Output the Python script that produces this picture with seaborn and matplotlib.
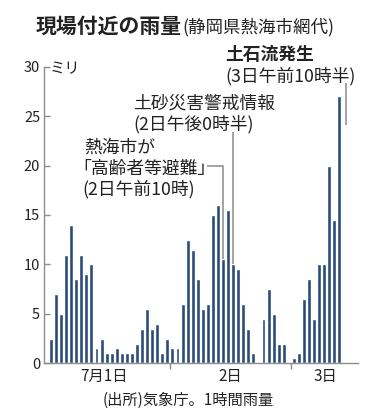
import matplotlib
matplotlib.use("Agg")
import matplotlib.pyplot as plt
import seaborn as sns
import pandas as pd

# hourly rainfall (mm), one value per hour
jul1 = [2.5, 7, 5, 11, 14, 8.5, 11, 9, 10, 1.5, 2.5, 1, 1, 1.5, 1, 1, 1, 2, 3.5, 5.5, 3.5, 4, 1, 2.5]
jul2 = [1.5, 1.5, 6, 12.5, 11.5, 8.5, 5.5, 6, 15, 16, 10.5, 15.5, 10, 9.5, 6, 3.5, 1, 0, 4.5, 7.5, 5, 2, 2, 0]
jul3 = [0.5, 1, 6.5, 8.5, 4.5, 10, 10, 20, 14.5, 27]
day_labels = ["7月1日", "2日", "3日"]
y_ticks = [0, 5, 10, 15, 20, 25, 30]

values = jul1 + jul2 + jul3
hours = list(range(len(values)))
df = pd.DataFrame({"hour": hours, "mm": values})

sns.set_theme(style="white")
plt.rcParams["font.family"] = ["Noto Sans CJK JP", "DejaVu Sans"]

W, H = 375, 420
fig = plt.figure(figsize=(W / 100, H / 100), dpi=100)
fig.patch.set_facecolor("white")

def fx(px):
    return px / W

def fy(py):
    return 1 - py / H

ax_l, ax_r, ax_t, ax_b = 44.3, 358, 66.6, 363.3
ax = fig.add_axes([fx(ax_l), fy(ax_b), fx(ax_r - ax_l), (ax_b - ax_t) / H])

bar_color = "#2b4b78"
sns.barplot(data=df, x="hour", y="mm", color=bar_color, saturation=1,
            width=0.78, ax=ax, errorbar=None)

ax.set_xlim(-1.32, 60.67)
ax.set_ylim(0, 30)
ax.set_xlabel("")
ax.set_ylabel("")

gray = "#8c8c8c"
for s in ["top", "right"]:
    ax.spines[s].set_visible(False)
for s in ["left", "bottom"]:
    ax.spines[s].set_color(gray)
    ax.spines[s].set_linewidth(1.0)

ax.set_yticks(y_ticks)
ax.set_yticklabels([str(v) for v in y_ticks], fontsize=10.5, color="#222222")
ax.tick_params(axis="y", direction="in", length=4.5, width=1, color=gray, pad=3, left=True)

# day boundary ticks
n1, n2 = len(jul1), len(jul2)
ax.set_xticks([n1 - 0.5, n1 + n2 - 0.5])
ax.set_xticklabels(["", ""])
ax.tick_params(axis="x", direction="out", length=4.5, width=1, color=gray, bottom=True)

tx = ax.get_xaxis_transform()
label_x = [10.5, 35.4, 54.2]
for xv, lab in zip(label_x, day_labels):
    ax.text(xv, -0.045, lab, transform=tx, ha="center", va="center",
            fontsize=11, color="#222222")

# annotation lines (data coords)
lc = "#8a8a8a"
lw = 1.1
# 高齢者等避難 (2日午前10時)
ax.plot([30.8, 34, 34], [19.9, 19.9, 10.5], color=lc, lw=lw, solid_capstyle="butt")
# 土砂災害警戒情報 (2日午後0時半)
ax.plot([36, 36], [23.4, 10], color=lc, lw=lw, solid_capstyle="butt")
# 土石流発生 (3日午前10時半)
ax.plot([58.2, 58.2], [28.3, 24.1], color=lc, lw=lw, solid_capstyle="butt")

tc = "#222222"
fs = 12.8
# title
fig.text(fx(36), fy(26), "現場付近の雨量", fontsize=15, fontweight="bold",
         ha="left", va="center", color=tc)
fig.text(fx(182), fy(27), "(静岡県熱海市網代)", fontsize=12.6, ha="left", va="center", color=tc)

fig.text(fx(50), fy(69), "ミリ", fontsize=11, ha="left", va="center", color=tc)

fig.text(fx(225), fy(55), "土石流発生", fontsize=fs, fontweight="bold", ha="left", va="center", color=tc)
fig.text(fx(225), fy(76), "(3日午前10時半)", fontsize=fs, ha="left", va="center", color=tc)

fig.text(fx(133), fy(104), "土砂災害警戒情報", fontsize=fs, ha="left", va="center", color=tc)
fig.text(fx(133), fy(124), "(2日午後0時半)", fontsize=fs, ha="left", va="center", color=tc)

fig.text(fx(84), fy(148), "熱海市が", fontsize=fs, ha="left", va="center", color=tc)
fig.text(fx(82), fy(169), "｢高齢者等避難｣", fontsize=fs, ha="left", va="center", color=tc)
fig.text(fx(82), fy(189), "(2日午前10時)", fontsize=fs, ha="left", va="center", color=tc)

fig.text(fx(188), fy(400), "(出所)気象庁。1時間雨量", fontsize=11, ha="center", va="center", color=tc)

fig.savefig("out.png", dpi=100, facecolor="white")
